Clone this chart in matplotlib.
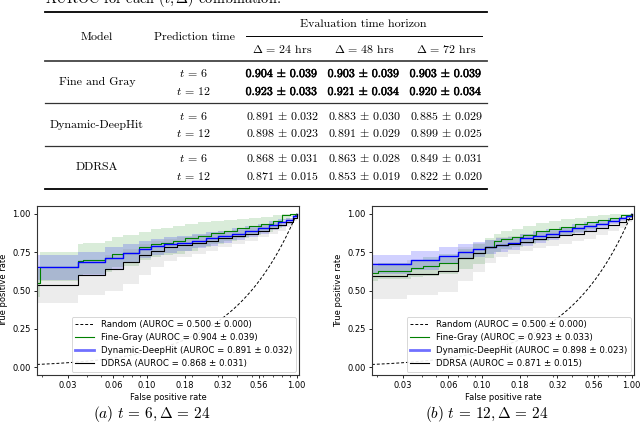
import numpy as np
import matplotlib
matplotlib.use("Agg")
import matplotlib.pyplot as plt
from matplotlib.lines import Line2D
from matplotlib.ticker import FixedLocator, FixedFormatter, NullFormatter
import matplotlib.patheffects as pe

plt.rcParams['mathtext.fontset'] = 'cm'

# ---------------- table data ----------------
MODELS = ['Fine and Gray', 'Dynamic-DeepHit', 'DDRSA']
PRED_TIMES = ['6', '12']
HORIZONS = ['24', '48', '72']
AUROC_MEAN = [[[0.904, 0.903, 0.903], [0.923, 0.921, 0.920]],
              [[0.891, 0.883, 0.885], [0.898, 0.891, 0.899]],
              [[0.868, 0.863, 0.849], [0.871, 0.853, 0.822]]]
AUROC_STD = [[[0.039, 0.039, 0.039], [0.033, 0.034, 0.034]],
             [[0.032, 0.030, 0.029], [0.023, 0.029, 0.025]],
             [[0.031, 0.028, 0.031], [0.015, 0.019, 0.020]]]

# ---------------- ROC data, panel (a): t=6, delta=24 ----------------
FG_A_FPR = [0.0186, 0.0195, 0.0347, 0.0375, 0.053, 0.059, 0.070, 0.0886, 0.107, 0.125, 0.15, 0.18,
            0.22, 0.27, 0.33, 0.40, 0.48, 0.58, 0.70, 0.80, 0.90, 1.0]
FG_A_TPR = [0.55, 0.65, 0.69, 0.70, 0.71, 0.738, 0.745, 0.78, 0.80, 0.81, 0.82, 0.84,
            0.855, 0.875, 0.89, 0.905, 0.92, 0.935, 0.955, 0.99, 1.0, 1.0]
FG_A_HI = [0.64, 0.75, 0.80, 0.81, 0.82, 0.85, 0.86, 0.88, 0.90, 0.91, 0.92, 0.935,
           0.945, 0.955, 0.96, 0.965, 0.97, 0.98, 0.99, 1.0, 1.0, 1.0]
FG_A_LO = [0.46, 0.56, 0.60, 0.61, 0.62, 0.65, 0.66, 0.70, 0.72, 0.73, 0.74, 0.76,
           0.78, 0.80, 0.82, 0.84, 0.86, 0.88, 0.91, 0.96, 0.98, 1.0]

BL_A_FPR = [0.0186, 0.0347, 0.053, 0.070, 0.0886, 0.107, 0.13, 0.16, 0.20, 0.25, 0.30, 0.37,
            0.45, 0.55, 0.65, 0.75, 0.85, 0.95, 1.0]
BL_A_TPR = [0.651, 0.683, 0.714, 0.742, 0.771, 0.79, 0.80, 0.81, 0.825, 0.84, 0.855, 0.87,
            0.89, 0.905, 0.925, 0.945, 0.96, 0.985, 1.0]
BL_A_HI = [0.73, 0.75, 0.78, 0.80, 0.82, 0.835, 0.845, 0.855, 0.865, 0.88, 0.89, 0.905,
           0.92, 0.935, 0.95, 0.965, 0.975, 0.99, 1.0]
BL_A_LO = [0.57, 0.60, 0.64, 0.68, 0.71, 0.73, 0.745, 0.76, 0.775, 0.79, 0.81, 0.83,
           0.85, 0.87, 0.895, 0.915, 0.935, 0.97, 1.0]

BK_A_FPR = BL_A_FPR
BK_A_TPR = [0.539, 0.60, 0.64, 0.688, 0.731, 0.76, 0.785, 0.795, 0.81, 0.825, 0.84, 0.855,
            0.87, 0.89, 0.905, 0.925, 0.945, 0.97, 1.0]
BK_A_HI = [0.64, 0.70, 0.73, 0.77, 0.80, 0.82, 0.835, 0.845, 0.86, 0.87, 0.885, 0.895,
           0.91, 0.925, 0.94, 0.955, 0.97, 0.985, 1.0]
BK_A_LO = [0.42, 0.47, 0.50, 0.54, 0.60, 0.65, 0.69, 0.72, 0.74, 0.76, 0.78, 0.80,
           0.82, 0.845, 0.865, 0.89, 0.915, 0.95, 1.0]

# ---------------- ROC data, panel (b): t=12, delta=24 ----------------
FG_B_FPR = [0.0186, 0.0204, 0.034, 0.0407, 0.052, 0.0696, 0.0877, 0.105, 0.12, 0.135, 0.16, 0.19,
            0.23, 0.28, 0.34, 0.42, 0.50, 0.60, 0.72, 0.85, 1.0]
FG_B_TPR = [0.611, 0.63, 0.645, 0.66, 0.68, 0.71, 0.742, 0.78, 0.82, 0.834, 0.845, 0.86,
            0.885, 0.90, 0.915, 0.93, 0.945, 0.96, 0.975, 0.99, 1.0]
FG_B_HI = [0.66, 0.68, 0.70, 0.715, 0.735, 0.77, 0.80, 0.84, 0.87, 0.885, 0.90, 0.92,
           0.94, 0.955, 0.965, 0.975, 0.985, 0.99, 0.995, 1.0, 1.0]
FG_B_LO = [0.565, 0.575, 0.585, 0.595, 0.61, 0.64, 0.67, 0.71, 0.75, 0.77, 0.785, 0.80,
           0.82, 0.84, 0.86, 0.88, 0.90, 0.925, 0.95, 0.975, 1.0]

BL_B_FPR = [0.0186, 0.034, 0.052, 0.0696, 0.0877, 0.105, 0.1255, 0.15, 0.18, 0.22, 0.27, 0.33,
            0.40, 0.48, 0.58, 0.70, 0.82, 0.92, 1.0]
BL_B_TPR = [0.67, 0.696, 0.725, 0.753, 0.769, 0.784, 0.797, 0.81, 0.84, 0.855, 0.87, 0.89,
            0.905, 0.92, 0.935, 0.955, 0.97, 0.985, 1.0]
BL_B_HI = [0.73, 0.76, 0.78, 0.80, 0.815, 0.83, 0.84, 0.85, 0.87, 0.885, 0.90, 0.915,
           0.93, 0.945, 0.955, 0.97, 0.98, 0.99, 1.0]
BL_B_LO = [0.61, 0.635, 0.67, 0.705, 0.72, 0.735, 0.75, 0.765, 0.79, 0.81, 0.83, 0.855,
           0.875, 0.89, 0.91, 0.935, 0.955, 0.975, 1.0]

BK_B_FPR = [0.0186, 0.032, 0.0512, 0.0697, 0.0877, 0.105, 0.1255, 0.15, 0.18, 0.22, 0.27, 0.33,
            0.40, 0.48, 0.58, 0.70, 0.82, 0.92, 1.0]
BK_B_TPR = [0.594, 0.61, 0.625, 0.71, 0.747, 0.78, 0.797, 0.805, 0.818, 0.835, 0.845, 0.86,
            0.87, 0.885, 0.905, 0.925, 0.945, 0.967, 1.0]
BK_B_HI = [0.68, 0.70, 0.71, 0.78, 0.81, 0.83, 0.845, 0.855, 0.865, 0.88, 0.89, 0.905,
           0.915, 0.925, 0.94, 0.955, 0.97, 0.985, 1.0]
BK_B_LO = [0.445, 0.47, 0.49, 0.56, 0.62, 0.68, 0.72, 0.74, 0.76, 0.775, 0.79, 0.805,
           0.82, 0.835, 0.86, 0.885, 0.91, 0.945, 1.0]

XTICKS = [0.03, 0.06, 0.10, 0.18, 0.32, 0.56, 1.00]
XTICK_LABELS = ['0.03', '0.06', '0.10', '0.18', '0.32', '0.56', '1.00']
YTICKS = [0.0, 0.25, 0.5, 0.75, 1.0]
YTICK_LABELS = ['0.00', '0.25', '0.50', '0.75', '1.00']
XLIM = (0.0186, 1.036)

W, H = 640, 433
fig = plt.figure(figsize=(6.4, 4.33), dpi=100)


def P(x, y):
    return x / W, 1 - y / H


def hline(y, x0, x1, lw, color='black'):
    fig.add_artist(Line2D([x0 / W, x1 / W], [1 - y / H, 1 - y / H], lw=lw, color=color,
                          transform=fig.transFigure))


TFONT = dict(family='cmr10', size=8.6)
BOLD = [pe.withStroke(linewidth=0.35, foreground='black')]

# partially visible caption at the very top (cropped in the source)
fig.text(*P(45, 3.0), 'AUROC for each ' + r'$(t,\Delta)$' + ' combination.', ha='left', va='baseline',
         family='cmr10', size=10.4)

# table rules
hline(11.7, 45, 487, 1.3)
hline(36, 246, 482, 0.7)
hline(61, 45, 487, 1.3, '#444444')
hline(103, 45, 487, 0.9, '#333333')
hline(146, 45, 487, 0.9, '#333333')
hline(189, 45, 487, 1.3)

fig.text(*P(363, 24), 'Evaluation time horizon', ha='center', va='center', **TFONT)
fig.text(*P(97, 37), 'Model', ha='center', va='center', **TFONT)
fig.text(*P(194, 37), 'Prediction time', ha='center', va='center', **TFONT)
COLX = [282, 364, 446]
for cx, hz in zip(COLX, HORIZONS):
    fig.text(*P(cx, 49), r'$\Delta \,=\, %s$ hrs' % hz, ha='center', va='center', **TFONT)

ROW_Y = [(73, 91), (116, 133), (158, 176)]
for mi, model in enumerate(MODELS):
    ya, yb = ROW_Y[mi]
    fig.text(*P(97, (ya + yb) / 2), model, ha='center', va='center', **TFONT)
    for ti, (pt, yy) in enumerate(zip(PRED_TIMES, (ya, yb))):
        fig.text(*P(193, yy), r'$t \,=\, %s$' % pt, ha='center', va='center', **TFONT)
        for hi, cx in enumerate(COLX):
            m = AUROC_MEAN[mi][ti][hi]
            s = AUROC_STD[mi][ti][hi]
            txt = r'$%.3f \,\pm\, %.3f$' % (m, s)
            t = fig.text(*P(cx, yy), txt, ha='center', va='center', **TFONT)
            if mi == 0:
                t.set_path_effects(BOLD)

# ---------------- ROC panels ----------------
RANDOM_FPR = np.geomspace(XLIM[0], 1.0, 300)  # chance diagonal TPR = FPR


def draw_panel(left_px, curves, stats, caption):
    ax = fig.add_axes([left_px / W, 1 - 375 / H, 262 / W, 169 / H])
    ax.set_xscale('log')
    ax.plot(RANDOM_FPR, RANDOM_FPR, color='black', ls='--', lw=0.7, dashes=(3, 2))
    colors = ['green', 'blue', 'black']
    fills = [('green', 0.15), ('blue', 0.18), ('gray', 0.15)]
    lws = [0.8, 1.0, 0.8]
    for (fpr, tpr, lo, hi), c, (fc, fa), lw in zip(curves, colors, fills, lws):
        ax.fill_between(fpr, lo, hi, step='post', color=fc, alpha=fa, lw=0)
        ax.step(fpr, tpr, where='post', color=c, lw=lw)
    ax.set_xlim(*XLIM)
    ax.set_ylim(-0.05, 1.05)
    ax.xaxis.set_major_locator(FixedLocator(XTICKS))
    ax.xaxis.set_major_formatter(FixedFormatter(XTICK_LABELS))
    ax.xaxis.set_minor_formatter(NullFormatter())
    ax.yaxis.set_major_locator(FixedLocator(YTICKS))
    ax.yaxis.set_major_formatter(FixedFormatter(YTICK_LABELS))
    ax.tick_params(which='major', labelsize=6, length=2.5, width=0.6, pad=2)
    ax.tick_params(which='minor', length=1.5, width=0.5)
    for sp in ax.spines.values():
        sp.set_linewidth(0.8)
        sp.set_color('#333333')
    ax.set_xlabel('False positive rate', fontsize=6, labelpad=2)
    ax.set_ylabel('True positive rate', fontsize=6, labelpad=3)
    names = ['Fine-Gray', 'Dynamic-DeepHit', 'DDRSA']
    labels = ['Random (AUROC = 0.500 ± 0.000)'] + [
        '%s (AUROC = %.3f ± %.3f)' % (n, m, s) for n, (m, s) in zip(names, stats)]
    handles = [Line2D([], [], color='black', ls='--', lw=0.7, dashes=(3, 2)),
               Line2D([], [], color='green', lw=0.8),
               Line2D([], [], color='#7070ff', lw=2.0),
               Line2D([], [], color='black', lw=0.8)]
    leg = ax.legend(handles, labels, loc='lower right', fontsize=6.2, borderaxespad=0.4,
                    handlelength=2.2, labelspacing=0.45, framealpha=0.9)
    leg.get_frame().set_edgecolor('#cccccc')
    leg.get_frame().set_linewidth(0.6)
    cx = left_px + 115
    fig.text(*P(cx, 414), caption, ha='center', va='center', size=11)
    return ax


stats_a = [(AUROC_MEAN[i][0][0], AUROC_STD[i][0][0]) for i in range(3)]
stats_b = [(AUROC_MEAN[i][1][0], AUROC_STD[i][1][0]) for i in range(3)]

draw_panel(37, [(FG_A_FPR, FG_A_TPR, FG_A_LO, FG_A_HI),
                (BL_A_FPR, BL_A_TPR, BL_A_LO, BL_A_HI),
                (BK_A_FPR, BK_A_TPR, BK_A_LO, BK_A_HI)], stats_a,
           r'$(a)\ t \,=\, 6, \Delta \,=\, 24$')
draw_panel(372, [(FG_B_FPR, FG_B_TPR, FG_B_LO, FG_B_HI),
                 (BL_B_FPR, BL_B_TPR, BL_B_LO, BL_B_HI),
                 (BK_B_FPR, BK_B_TPR, BK_B_LO, BK_B_HI)], stats_b,
           r'$(b)\ t \,=\, 12, \Delta \,=\, 24$')

fig.savefig('out.png', dpi=100)
